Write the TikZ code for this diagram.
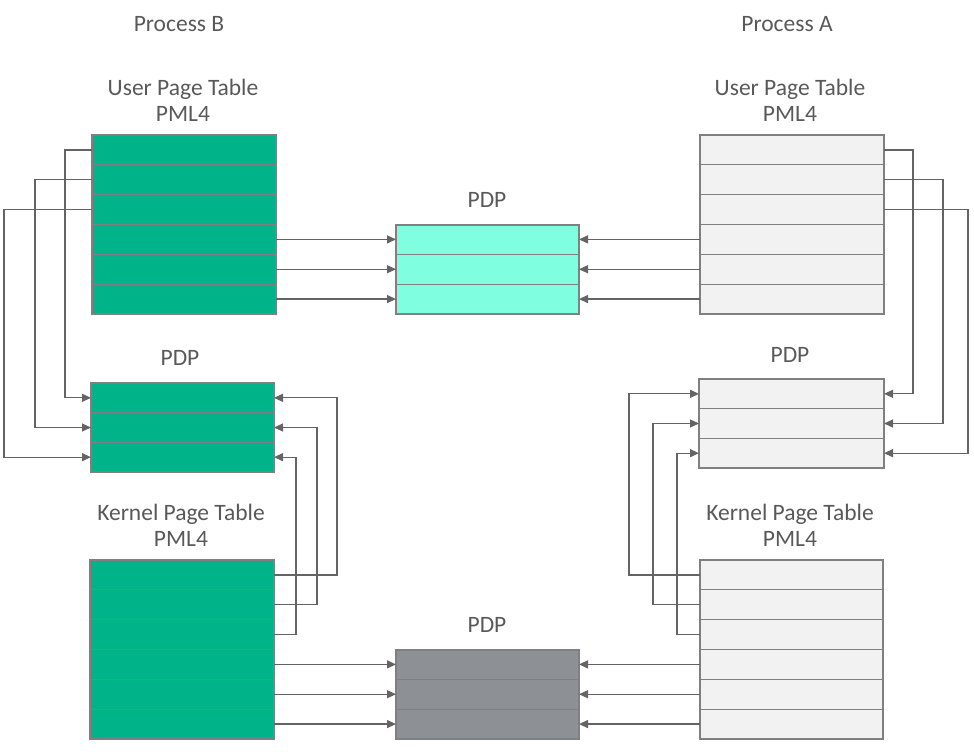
\documentclass[tikz,border=0pt]{standalone}
\usepackage{fontspec}
\setmainfont{Carlito}
\usetikzlibrary{arrows.meta}
\definecolor{tgreen}{RGB}{0,179,136}
\definecolor{tcyan}{RGB}{127,255,223}
\definecolor{tlight}{RGB}{242,242,242}
\definecolor{tdark}{RGB}{141,145,150}
\definecolor{tborder}{RGB}{128,128,128}
\definecolor{tline}{RGB}{100,100,100}
\definecolor{ttext}{RGB}{89,89,89}
\tikzset{
  rowbox/.style={draw=tborder, line width=1.1pt, minimum width=#1, minimum height=29.83pt, inner sep=0pt, outer sep=0pt, anchor=north west},
  conn/.style={draw=tline, line width=1.2pt, -{Triangle[length=9pt,width=8pt]}},
  plain/.style={draw=tline, line width=1.2pt},
  lbl/.style={text=ttext, font=\fontsize{23.5}{26}\selectfont, align=center, inner sep=0pt}
}
\begin{document}
\begin{tikzpicture}[x=1pt,y=-1pt]
\useasboundingbox (0,0) rectangle (974,754);
% tables
\foreach \i in {1,...,6} {
  \node[rowbox=184pt, fill=tgreen] (ub-\i) at (92,{135+29.83*(\i-1)}) {};
  \node[rowbox=184pt, fill=tlight] (ua-\i) at (700,{135+29.83*(\i-1)}) {};
  \node[rowbox=184pt, fill=tgreen] (kb-\i) at (90,{560+29.83*(\i-1)}) {};
  \node[rowbox=183pt, fill=tlight] (ka-\i) at (700,{560+29.83*(\i-1)}) {};
}
\foreach \i in {1,2,3} {
  \node[rowbox=183pt, fill=tcyan, minimum height=29.67pt] (mp-\i) at (396,{225+29.67*(\i-1)}) {};
  \node[rowbox=183pt, fill=tgreen, minimum height=29.67pt] (lp-\i) at (91,{383+29.67*(\i-1)}) {};
  \node[rowbox=185pt, fill=tlight, minimum height=29.67pt] (rp-\i) at (699,{379+29.67*(\i-1)}) {};
  \node[rowbox=183pt, fill=tdark, minimum height=29.67pt] (gp-\i) at (396,{650+29.67*(\i-1)}) {};
}
% labels
\node[lbl] (tpb) at (179,24) {Process B};
\node[lbl] (tpa) at (787,24) {Process A};
\node[lbl] (tub) at (183,100) {User Page Table\\PML4};
\node[lbl] (tua) at (790,100) {User Page Table\\PML4};
\node[lbl] (tmp) at (487,200) {PDP};
\node[lbl] (tlp) at (180,358) {PDP};
\node[lbl] (trp) at (790,355) {PDP};
\node[lbl] (tkb) at (181,525) {Kernel Page Table\\PML4};
\node[lbl] (tka) at (790,525) {Kernel Page Table\\PML4};
\node[lbl] (tgp) at (487,625) {PDP};
% process B user PML4 -> left PDP
\draw[conn] (ub-1.west) -- ++(-27,0) |- (lp-1.west);
\draw[conn] (ub-2.west) -- ++(-57,0) |- (lp-2.west);
\draw[conn] (ub-3.west) -- ++(-88,0) |- (lp-3.west);
% process B user PML4 -> shared PDP
\foreach \i/\j in {4/1,5/2,6/3} {
  \draw[conn] (ub-\i.east) -- (ub-\i.east -| mp-\j.west);
  \draw[conn] (ua-\i.west) -- (ua-\i.west -| mp-\j.east);
}
% process A user PML4 -> right PDP
\draw[conn] (ua-1.east) -- ++(29,0) |- (rp-1.east);
\draw[conn] (ua-2.east) -- ++(59,0) |- (rp-2.east);
\draw[conn] (ua-3.east) -- ++(84,0) |- (rp-3.east);
% kernel B -> left PDP
\draw[conn] (kb-1.east) -- ++(63,0) |- (lp-1.east);
\draw[conn] (kb-2.east) -- ++(43,0) |- (lp-2.east);
\draw[conn] (kb-3.east) -- ++(22,0) |- (lp-3.east);
% kernel A -> right PDP
\draw[conn] (ka-1.west) -- ++(-71,0) |- (rp-1.west);
\draw[conn] (ka-2.west) -- ++(-47,0) |- (rp-2.west);
\draw[conn] (ka-3.west) -- ++(-23,0) |- (rp-3.west);
% kernels -> shared kernel PDP
\foreach \i/\j in {4/1,5/2,6/3} {
  \draw[conn] (kb-\i.east) -- (kb-\i.east -| gp-\j.west);
  \draw[conn] (ka-\i.west) -- (ka-\i.west -| gp-\j.east);
}
\end{tikzpicture}
\end{document}
